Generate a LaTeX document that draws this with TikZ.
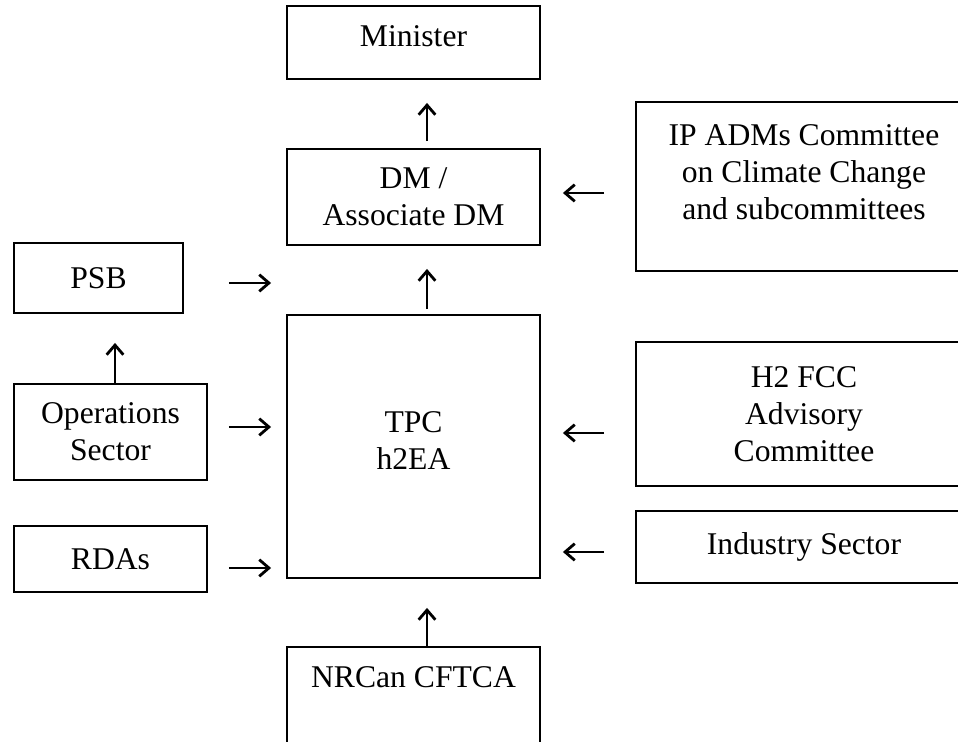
\documentclass[tikz,border=0pt]{standalone}
\usepackage{fontspec}
\setmainfont{Liberation Serif}
\usetikzlibrary{arrows.meta}

\begin{document}
\begin{tikzpicture}[x=0.02cm, y=-0.02cm,
    box/.style={draw, line width=1.1pt, inner sep=0pt, align=center,
      font=\fontsize{18pt}{21pt}\selectfont},
    flow/.style={line width=1.15pt, -{Straight Barb[length=5.5pt, width=9.5pt, line width=1.6pt]}}]

  \clip (0,0) rectangle (958,742);

  %% Reporting structure

  % centre column
  \node[box, minimum width=5.06cm, minimum height=1.46cm, text height=0.42cm, text depth=0.25cm] (minister) at (413.5,42.5) {Minister};
  \node[box, minimum width=5.06cm, minimum height=1.92cm] (dm) at (413.5,197) {DM /\\Associate DM};
  \node[box, minimum width=5.06cm, minimum height=5.26cm, text depth=0.24cm] (tpc) at (413.5,446.5) {TPC\\h2EA};
  \node[box, minimum width=5.06cm, minimum height=2.46cm, text height=0.42cm, text depth=1.26cm] (nrcan) at (413.5,708.5) {NRCan CFTCA};

  % left column
  \node[box, minimum width=3.38cm, minimum height=1.40cm] (psb) at (98.5,278) {PSB};
  \node[box, minimum width=3.86cm, minimum height=1.92cm] (ops) at (110.5,432) {Operations\\Sector};
  \node[box, minimum width=3.86cm, minimum height=1.32cm] (rdas) at (110.5,559) {RDAs};

  % right column
  \node[box, minimum width=6.72cm, minimum height=3.38cm, text depth=0.57cm] (ip) at (804,186.5) {IP ADMs Committee\\on Climate Change\\and subcommittees};
  \node[box, minimum width=6.72cm, minimum height=2.88cm] (h2) at (804,414) {H2 FCC\\Advisory\\Committee};
  \node[box, minimum width=6.72cm, minimum height=1.44cm] (industry) at (804,547) {Industry Sector};

  % arrow columns
  \coordinate (upcol) at (427,0);
  \coordinate (opscol) at (115,0);

  % upward arrows
  \draw[flow, shorten <=0.14cm, shorten >=0.46cm] (dm.north -| upcol) -- (minister.south -| upcol);
  \draw[flow, shorten <=0.1cm, shorten >=0.46cm] (tpc.north -| upcol) -- (dm.south -| upcol);
  \draw[flow, shorten >=0.58cm] (nrcan.north -| upcol) -- (tpc.south -| upcol);
  \draw[flow, shorten >=0.58cm] (ops.north -| opscol) -- (psb.south -| opscol);

  % arrows from the left
  \draw[flow, shorten <=0.9cm, shorten >=0.3cm] ([yshift=-0.1cm]psb.east) -- ([yshift=-0.1cm]psb.east -| tpc.west);
  \draw[flow, shorten <=0.42cm, shorten >=0.3cm] ([yshift=0.1cm]ops.east) -- ([yshift=0.1cm]ops.east -| tpc.west);
  \draw[flow, shorten <=0.42cm, shorten >=0.3cm] ([yshift=-0.18cm]rdas.east) -- ([yshift=-0.18cm]rdas.east -| tpc.west);

  % arrows from the right
  \draw[flow, shorten <=0.62cm, shorten >=0.44cm] ([yshift=-0.13cm]ip.west) -- ([yshift=-0.13cm]ip.west -| dm.east);
  \draw[flow, shorten <=0.62cm, shorten >=0.44cm] ([yshift=-0.38cm]h2.west) -- ([yshift=-0.38cm]h2.west -| tpc.east);
  \draw[flow, shorten <=0.62cm, shorten >=0.44cm] ([yshift=-0.1cm]industry.west) -- ([yshift=-0.1cm]industry.west -| tpc.east);

\end{tikzpicture}
\end{document}
